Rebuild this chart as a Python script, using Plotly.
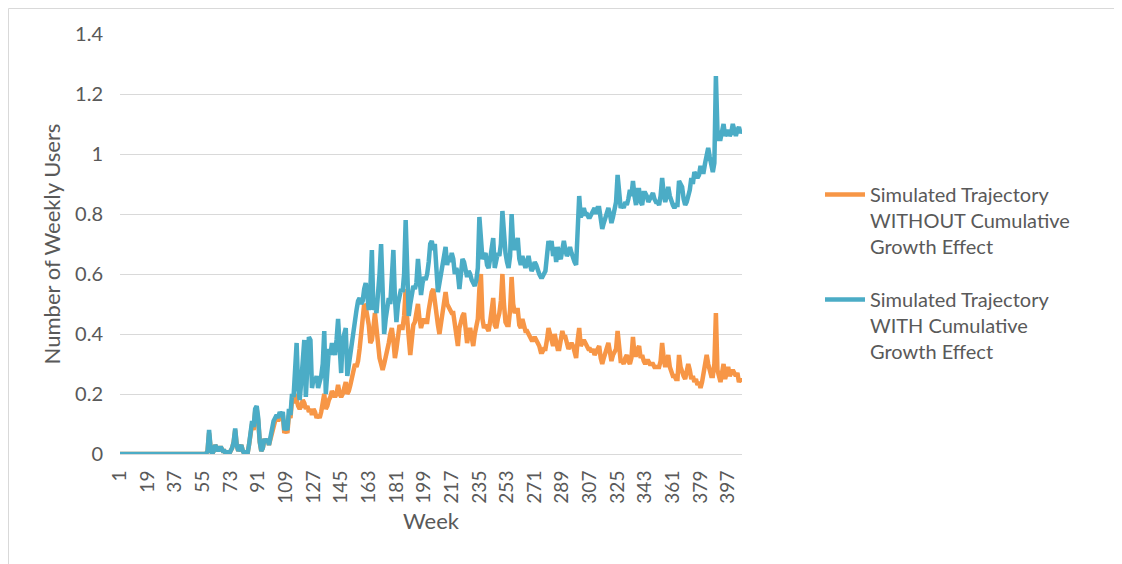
import plotly.graph_objects as go

# ---- data (weeks 1..406) ----
weeks = list(range(1, 407))
tick_weeks = list(range(1, 407, 18))
tick_labels = [str(w) for w in tick_weeks]

without_effect = [
    # 1-50
    0, 0, 0, 0, 0, 0, 0, 0, 0, 0,
    0, 0, 0, 0, 0, 0, 0, 0, 0, 0,
    0, 0, 0, 0, 0, 0, 0, 0, 0, 0,
    0, 0, 0, 0, 0, 0, 0, 0, 0, 0,
    0, 0, 0, 0, 0, 0, 0, 0, 0, 0,
    # 51-60
    0, 0, 0, 0, 0, 0, 0, 0.01, 0.07, 0.02,
    # 61-70
    0.0, 0.01, 0.03, 0.02, 0.01, 0.02, 0.02, 0.01, 0.01, 0.0,
    # 71-80
    0.01, 0.0, 0.01, 0.02, 0.04, 0.08, 0.03, 0.01, 0.02, 0.03,
    # 81-90
    0.01, 0.0, 0.01, 0.0, 0.03, 0.07, 0.10, 0.08, 0.14, 0.15,
    # 91-100
    0.11, 0.04, 0.01, 0.02, 0.05, 0.04, 0.05, 0.03, 0.05, 0.08,
    # 101-110
    0.10, 0.11, 0.12, 0.11, 0.12, 0.12, 0.13, 0.07, 0.08, 0.07,
    # 111-120
    0.13, 0.12, 0.18, 0.17, 0.20, 0.17, 0.16, 0.15, 0.16, 0.18,
    # 121-130
    0.17, 0.15, 0.16, 0.14, 0.15, 0.13, 0.15, 0.14, 0.12, 0.13,
    # 131-140
    0.12, 0.14, 0.17, 0.20, 0.15, 0.16, 0.18, 0.19, 0.21, 0.20,
    # 141-150
    0.19, 0.20, 0.23, 0.20, 0.19, 0.20, 0.22, 0.24, 0.20, 0.21,
    # 151-160
    0.23, 0.26, 0.28, 0.30, 0.29, 0.31, 0.35, 0.42, 0.45, 0.50,
    # 161-170
    0.49, 0.46, 0.43, 0.37, 0.38, 0.42, 0.47, 0.42, 0.35, 0.32,
    # 171-180
    0.30, 0.28, 0.30, 0.32, 0.35, 0.37, 0.40, 0.42, 0.38, 0.32,
    # 181-190
    0.35, 0.40, 0.43, 0.42, 0.42, 0.46, 0.55, 0.45, 0.40, 0.33,
    # 191-200
    0.38, 0.43, 0.44, 0.47, 0.50, 0.45, 0.42, 0.44, 0.45, 0.44,
    # 201-210
    0.44, 0.48, 0.52, 0.54, 0.55, 0.50, 0.46, 0.43, 0.40, 0.44,
    # 211-220
    0.48, 0.52, 0.54, 0.50, 0.49, 0.48, 0.47, 0.47, 0.43, 0.38,
    # 221-230
    0.36, 0.42, 0.45, 0.46, 0.47, 0.42, 0.37, 0.40, 0.42, 0.39,
    # 231-240
    0.36, 0.40, 0.43, 0.45, 0.55, 0.60, 0.45, 0.42, 0.43, 0.42,
    # 241-250
    0.41, 0.44, 0.48, 0.52, 0.43, 0.42, 0.45, 0.47, 0.51, 0.60,
    # 251-260
    0.50, 0.44, 0.43, 0.43, 0.48, 0.59, 0.50, 0.47, 0.48, 0.48,
    # 261-270
    0.43, 0.42, 0.45, 0.43, 0.41, 0.41, 0.40, 0.39, 0.38, 0.38,
    # 271-280
    0.39, 0.38, 0.37, 0.36, 0.34, 0.34, 0.35, 0.35, 0.38, 0.42,
    # 281-290
    0.40, 0.37, 0.36, 0.40, 0.37, 0.35, 0.35, 0.38, 0.41, 0.39,
    # 291-300
    0.39, 0.37, 0.35, 0.36, 0.37, 0.36, 0.34, 0.32, 0.38, 0.42,
    # 301-310
    0.36, 0.37, 0.38, 0.37, 0.36, 0.35, 0.35, 0.34, 0.35, 0.33,
    # 311-320
    0.34, 0.35, 0.36, 0.32, 0.30, 0.32, 0.34, 0.35, 0.37, 0.34,
    # 321-330
    0.31, 0.33, 0.34, 0.35, 0.41, 0.36, 0.31, 0.31, 0.30, 0.32,
    # 331-340
    0.33, 0.31, 0.30, 0.32, 0.39, 0.33, 0.33, 0.35, 0.36, 0.32,
    # 341-350
    0.33, 0.31, 0.30, 0.31, 0.31, 0.30, 0.30, 0.30, 0.29, 0.29,
    # 351-360
    0.29, 0.29, 0.31, 0.37, 0.32, 0.29, 0.31, 0.33, 0.29, 0.27,
    # 361-370
    0.26, 0.26, 0.25, 0.25, 0.33, 0.29, 0.27, 0.26, 0.25, 0.27,
    # 371-380
    0.30, 0.28, 0.25, 0.26, 0.24, 0.25, 0.23, 0.24, 0.22, 0.24,
    # 381-390
    0.27, 0.29, 0.33, 0.30, 0.27, 0.26, 0.26, 0.30, 0.47, 0.28,
    # 391-400
    0.26, 0.24, 0.27, 0.30, 0.25, 0.27, 0.29, 0.26, 0.27, 0.28,
    # 401-406
    0.27, 0.26, 0.27, 0.24, 0.25, 0.24,
]

with_effect = [
    # 1-50
    0, 0, 0, 0, 0, 0, 0, 0, 0, 0,
    0, 0, 0, 0, 0, 0, 0, 0, 0, 0,
    0, 0, 0, 0, 0, 0, 0, 0, 0, 0,
    0, 0, 0, 0, 0, 0, 0, 0, 0, 0,
    0, 0, 0, 0, 0, 0, 0, 0, 0, 0,
    # 51-60
    0, 0, 0, 0, 0, 0, 0, 0.01, 0.08, 0.02,
    # 61-70
    0.0, 0.01, 0.03, 0.02, 0.01, 0.02, 0.02, 0.01, 0.01, 0.0,
    # 71-80
    0.01, 0.0, 0.01, 0.02, 0.04, 0.085, 0.03, 0.01, 0.02, 0.03,
    # 81-90
    0.01, 0.0, 0.01, 0.0, 0.03, 0.08, 0.11, 0.09, 0.15, 0.16,
    # 91-100
    0.12, 0.04, 0.01, 0.02, 0.05, 0.04, 0.05, 0.03, 0.06, 0.09,
    # 101-110
    0.11, 0.12, 0.13, 0.12, 0.14, 0.13, 0.14, 0.08, 0.09, 0.08,
    # 111-120
    0.15, 0.13, 0.20, 0.19, 0.30, 0.37, 0.22, 0.18, 0.24, 0.30,
    # 121-130
    0.38, 0.19, 0.30, 0.39, 0.38, 0.22, 0.25, 0.24, 0.26, 0.22,
    # 131-140
    0.24, 0.26, 0.30, 0.41, 0.20, 0.28, 0.35, 0.33, 0.37, 0.35,
    # 141-150
    0.33, 0.38, 0.45, 0.36, 0.27, 0.38, 0.40, 0.42, 0.26, 0.30,
    # 151-160
    0.33, 0.36, 0.40, 0.45, 0.48, 0.51, 0.52, 0.50, 0.51, 0.55,
    # 161-170
    0.57, 0.53, 0.48, 0.55, 0.68, 0.48, 0.50, 0.47, 0.52, 0.60,
    # 171-180
    0.70, 0.55, 0.40, 0.45, 0.49, 0.52, 0.50, 0.60, 0.68, 0.52,
    # 181-190
    0.44, 0.50, 0.53, 0.55, 0.54, 0.60, 0.78, 0.60, 0.46, 0.50,
    # 191-200
    0.54, 0.56, 0.55, 0.57, 0.65, 0.58, 0.53, 0.57, 0.59, 0.58,
    # 201-210
    0.60, 0.64, 0.70, 0.71, 0.68, 0.70, 0.60, 0.54, 0.57, 0.60,
    # 211-220
    0.62, 0.66, 0.69, 0.63, 0.66, 0.64, 0.67, 0.65, 0.60, 0.62,
    # 221-230
    0.60, 0.55, 0.60, 0.65, 0.64, 0.61, 0.59, 0.61, 0.60, 0.58,
    # 231-240
    0.57, 0.56, 0.58, 0.62, 0.79, 0.70, 0.65, 0.66, 0.67, 0.63,
    # 241-250
    0.62, 0.65, 0.68, 0.72, 0.62, 0.64, 0.67, 0.66, 0.70, 0.81,
    # 251-260
    0.72, 0.67, 0.64, 0.62, 0.66, 0.80, 0.70, 0.68, 0.70, 0.72,
    # 261-270
    0.65, 0.63, 0.66, 0.64, 0.62, 0.64, 0.66, 0.63, 0.61, 0.62,
    # 271-280
    0.64, 0.63, 0.61, 0.60, 0.59, 0.59, 0.60, 0.61, 0.66, 0.71,
    # 281-290
    0.68, 0.71, 0.66, 0.69, 0.64, 0.69, 0.66, 0.65, 0.68, 0.71,
    # 291-300
    0.68, 0.66, 0.67, 0.69, 0.67, 0.65, 0.64, 0.63, 0.75, 0.86,
    # 301-310
    0.79, 0.80, 0.82, 0.80, 0.80, 0.79, 0.79, 0.80, 0.81, 0.82,
    # 311-320
    0.80, 0.82, 0.82, 0.78, 0.75, 0.77, 0.79, 0.80, 0.82, 0.80,
    # 321-330
    0.77, 0.79, 0.82, 0.84, 0.93, 0.86, 0.82, 0.83, 0.82, 0.84,
    # 331-340
    0.83, 0.85, 0.88, 0.86, 0.91, 0.86, 0.83, 0.88, 0.88, 0.84,
    # 341-350
    0.83, 0.87, 0.87, 0.86, 0.84, 0.85, 0.86, 0.87, 0.85, 0.84,
    # 351-360
    0.84, 0.83, 0.86, 0.92, 0.87, 0.84, 0.86, 0.89, 0.86, 0.84,
    # 361-370
    0.83, 0.82, 0.83, 0.83, 0.91, 0.90, 0.89, 0.85, 0.83, 0.84,
    # 371-380
    0.86, 0.88, 0.92, 0.90, 0.94, 0.93, 0.92, 0.93, 0.96, 0.94,
    # 381-390
    0.94, 0.97, 1.00, 1.02, 0.99, 0.96, 0.94, 0.97, 1.26, 1.08,
    # 391-400
    1.05, 1.05, 1.07, 1.10, 1.06, 1.07, 1.08, 1.06, 1.07, 1.10,
    # 401-406
    1.08, 1.06, 1.08, 1.09, 1.07, 1.08,
]

name_without = "Simulated Trajectory<br>WITHOUT Cumulative<br>Growth Effect"
name_with = "Simulated Trajectory<br>WITH Cumulative<br>Growth Effect"

FONT = "Lato, 'Open Sans', sans-serif"
TXT = "#595959"
GRID = "#D9D9D9"

# page has an 8px body margin; plot area targeted at screen x 120..742, y 34..454
L, T = 112, 26
W, H = 1122, 564
R = W - (742 - 8)
B = H - (454 - 8)
PW, PH = 622, 420


def px_x(sx):
    return (sx - 120) / PW


def px_y(sy):
    return (454 - sy) / PH


fig = go.Figure()
fig.add_trace(go.Scatter(
    x=weeks, y=without_effect, mode="lines", name=name_without,
    legendgroup="a",
    line=dict(color="#F79646", width=4.5),
))
fig.add_trace(go.Scatter(
    x=weeks, y=with_effect, mode="lines", name=name_with,
    legendgroup="b",
    line=dict(color="#4BACC6", width=4.5),
))

fig.update_layout(
    width=W, height=H,
    margin=dict(l=L, r=R, t=T, b=B),
    paper_bgcolor="white", plot_bgcolor="white",
    font=dict(family=FONT, size=20, color=TXT),
    showlegend=True,
    legend=dict(
        x=px_x(820), xanchor="left", y=px_y(175), yanchor="top",
        font=dict(family=FONT, size=20, color=TXT),
        valign="top", traceorder="grouped", tracegroupgap=24,
        itemwidth=40, bgcolor="rgba(0,0,0,0)",
    ),
    xaxis=dict(
        range=[1, 406],
        tickmode="array", tickvals=tick_weeks, ticktext=tick_labels,
        tickangle=-90, tickfont=dict(family=FONT, size=19, color=TXT),
        showgrid=False, zeroline=False,
        showline=True, linecolor=GRID, linewidth=1,
        ticks="", ticklabelstandoff=8,
        title=dict(text="Week", font=dict(family=FONT, size=22, color=TXT), standoff=10),
    ),
    yaxis=dict(
        range=[0, 1.4],
        tickvals=[0, 0.2, 0.4, 0.6, 0.8, 1.0, 1.2, 1.4],
        ticktext=["0", "0.2", "0.4", "0.6", "0.8", "1", "1.2", "1.4"],
        tickfont=dict(family=FONT, size=20, color=TXT),
        showgrid=True, gridcolor=GRID, gridwidth=1,
        zeroline=False, showline=False, ticks="", ticklabelstandoff=16,
        title=dict(text="Number of Weekly Users", font=dict(family=FONT, size=22, color=TXT), standoff=8),
    ),
    shapes=[
        # chart-area border (top and left edges visible)
        dict(type="line", xref="paper", yref="paper",
             x0=px_x(8.5), x1=px_x(1117), y0=px_y(8.5), y1=px_y(8.5),
             line=dict(color=GRID, width=1), layer="below"),
        dict(type="line", xref="paper", yref="paper",
             x0=px_x(8.5), x1=px_x(8.5), y0=px_y(8.5), y1=px_y(600),
             line=dict(color=GRID, width=1), layer="below"),
    ],
)

fig.write_html("out.html")
